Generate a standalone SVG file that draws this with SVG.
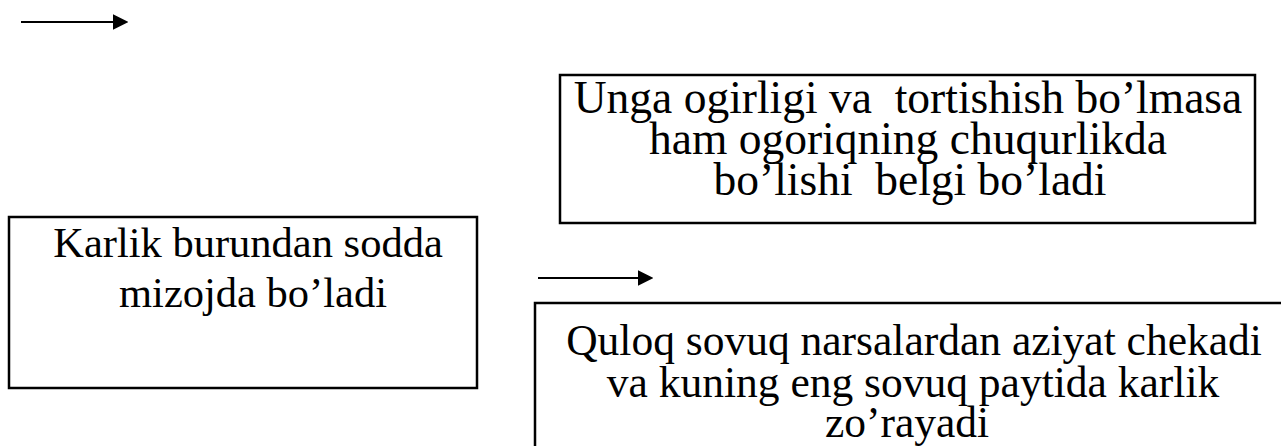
<svg xmlns="http://www.w3.org/2000/svg" width="1281" height="446" viewBox="0 0 1281 446">
  <style>
    .box { fill: #ffffff; stroke: #000000; stroke-width: 2.5; }
    .label { font-family: "Liberation Serif", "Times New Roman", serif; fill: #000000; text-anchor: middle; white-space: pre; }
    .big { font-size: 45.5px; }
    .mid { font-size: 43.5px; }
    .small { font-size: 42.5px; }
    .link { stroke: #000000; stroke-width: 2.2; fill: none; }
  </style>
  <defs>
    <marker id="head" viewBox="0 0 10 10" refX="0" refY="5" markerWidth="7" markerHeight="7.5" markerUnits="strokeWidth" orient="auto">
      <path d="M0,0 L10,5 L0,10 Z" fill="#000000"/>
    </marker>
  </defs>
  <rect width="1281" height="446" fill="#ffffff"/>

  <g id="connectors">
    <line class="link" x1="21" y1="22" x2="113" y2="22" marker-end="url(#head)"/>
    <line class="link" x1="538" y1="278" x2="638" y2="278" marker-end="url(#head)"/>
  </g>

  <g id="node-weight">
    <rect class="box" x="560" y="75" width="695" height="148"/>
    <text class="label big" x="908" y="113" xml:space="preserve">Unga ogirligi va  tortishish bo’lmasa</text>
    <text class="label big" x="908" y="154">ham ogoriqning chuqurlikda</text>
    <text class="label big" x="910" y="195" xml:space="preserve">bo’lishi  belgi bo’ladi</text>
  </g>

  <g id="node-nose">
    <rect class="box" x="9" y="217" width="468" height="171"/>
    <text class="label small" x="248" y="257">Karlik burundan sodda</text>
    <text class="label small" x="253" y="307">mizojda bo’ladi</text>
  </g>

  <g id="node-cold">
    <rect class="box" x="535" y="303" width="760" height="160"/>
    <text class="label mid" x="914" y="355">Quloq sovuq narsalardan aziyat chekadi</text>
    <text class="label mid" x="913" y="397">va kuning eng sovuq paytida karlik</text>
    <text class="label mid" x="907" y="437">zo’rayadi</text>
  </g>
</svg>
